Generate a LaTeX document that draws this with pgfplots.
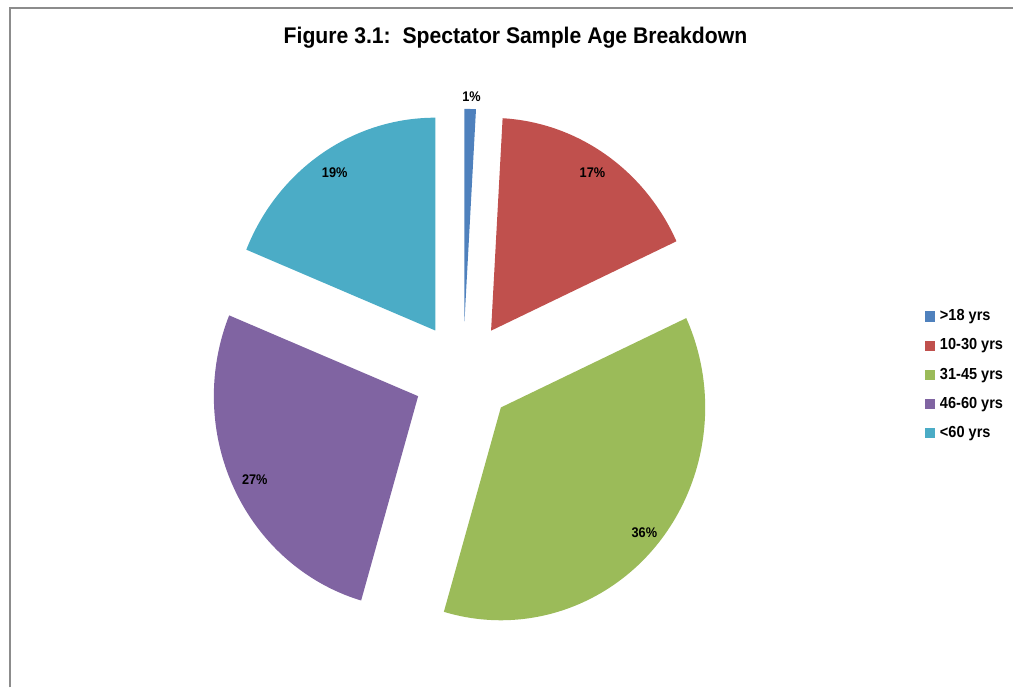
\documentclass[border=0pt]{standalone}
\usepackage{pgfplots}
\pgfplotsset{compat=1.18}
\usepackage{fontspec}
\setmainfont{Liberation Sans}
\newfontfamily\titlefont[FakeStretch=0.935]{Liberation Sans}
\newfontfamily\narfont[FakeStretch=0.91]{Liberation Sans}
\definecolor{c1}{HTML}{4F81BD}
\definecolor{c2}{HTML}{C0504D}
\definecolor{c3}{HTML}{9BBB59}
\definecolor{c4}{HTML}{8064A2}
\definecolor{c5}{HTML}{4BACC6}
\definecolor{frame}{HTML}{8C8C8C}
\newcommand\labelfont{\narfont\bfseries\fontsize{10.5pt}{12pt}\selectfont}
\def\pieangle{90}
% #1 share (percent), #2 colour, #3 label, #4/#5 label position (px)
\newcommand\pieslice[5]{%
  \pgfmathsetmacro\aone{\pieangle}%
  \pgfmathsetmacro\atwo{\pieangle-3.6*#1}%
  \pgfmathsetmacro\amid{(\aone+\atwo)/2}%
  \xdef\pieangle{\atwo}%
  \edef\temp{\noexpand\begin{scope}[shift={(axis cs:463.5,314)}, xscale=0.96]
    \noexpand\fill[#2] (\amid:39pt) -- ++(\aone:159.75pt)
    arc[start angle=\aone, end angle=\atwo, radius=159.75pt] -- cycle;
    \noexpand\end{scope}
    \noexpand\node[font=\noexpand\labelfont, inner sep=0pt] at (axis cs:#4,#5) {#3\noexpand\%};}%
  \temp}
\begin{document}
\begin{tikzpicture}
\begin{axis}[
  x=0.75pt, y=0.75pt, xmin=0, xmax=1014, ymin=0, ymax=688,
  hide axis, clip=false,
  legend image code/.code={\fill[#1] (0pt,-3.4pt) rectangle (6.8pt,3.4pt); \path (8.6pt,0pt);},
  legend style={draw=none, fill=none, at={(0.9132,0.5537)}, anchor=north west,
    font=\narfont\bfseries\fontsize{12pt}{14pt}\selectfont, row sep=8pt,
    inner xsep=0pt, inner ysep=0pt},
  legend cell align=left,
]
\path (axis cs:0,0) rectangle (axis cs:1014,688);
\draw[frame, line width=1.5pt] (axis cs:10,0) -- (axis cs:10,680) -- (axis cs:1014,680);
\node[font=\titlefont\bfseries\fontsize{17pt}{20pt}\selectfont] at (axis cs:516,650) {Figure 3.1:\ \ Spectator Sample Age Breakdown};
\pieslice{0.9}{c1}{1}{472}{591}
\pieslice{17.2}{c2}{17}{593}{515}
\pieslice{36.4}{c3}{36}{645}{155}
\pieslice{26.7}{c4}{27}{255}{208}
\pieslice{18.8}{c5}{19}{335}{515}
\addlegendimage{c1}\addlegendentry{>18 yrs}
\addlegendimage{c2}\addlegendentry{10-30 yrs}
\addlegendimage{c3}\addlegendentry{31-45 yrs}
\addlegendimage{c4}\addlegendentry{46-60 yrs}
\addlegendimage{c5}\addlegendentry{<60 yrs}
\end{axis}
\end{tikzpicture}
\end{document}
